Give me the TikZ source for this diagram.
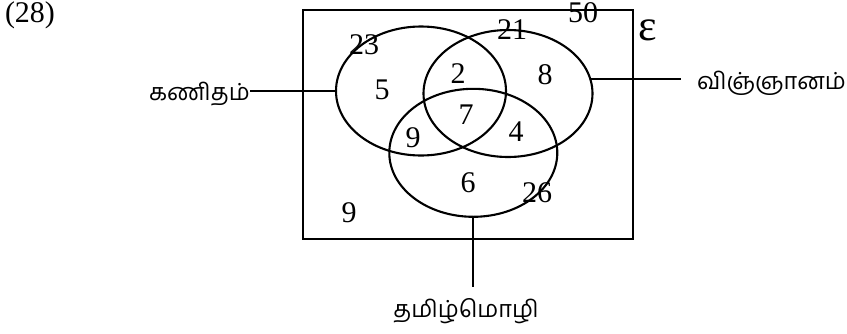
\documentclass[tikz,border=0pt]{standalone}
\usepackage{fontspec}
\setmainfont{Liberation Serif}
\newfontfamily\tamilfont[Script=Tamil]{Hind Madurai}
\usetikzlibrary{shapes.geometric,positioning}

\begin{document}
\begin{tikzpicture}[
  x=1pt, y=-1pt,
  every node/.style={font=\fontsize{30}{32}\selectfont},
  setring/.style={draw, ellipse, line width=2.1pt, inner sep=0pt, outer sep=0pt},
  num/.style={inner sep=0pt},
  tlabel/.style={font=\tamilfont\fontsize{23.5}{28}\selectfont, inner sep=0pt},
  conn/.style={line width=2.1pt}
]
  \useasboundingbox (0,0) rectangle (847,333);

  % universal set and the three sets
  \node[draw, line width=2.3pt, minimum width=330pt, minimum height=229pt,
        inner sep=0pt, outer sep=0pt] (univ) at (468,124.5) {};
  \node[setring, minimum width=170pt, minimum height=129pt] (maths) at (421,91) {};
  \node[setring, minimum width=169pt, minimum height=127pt] (science) at (508,93.5) {};
  \node[setring, minimum width=168pt, minimum height=128pt] (tamil) at (473.3,152.8) {};

  \node[num] (qno) at (30,15) {(28)};
  \node[num, font=\fontsize{44}{44}\selectfont] (eps) at (648,30) {ε};

  % region counts
  \node[num] (nA) at (364,45) {23};
  \node[num] (nB) at (512,30) {21};
  \node[num] (nU) at (583,13) {50};
  \node[num] (a) at (382,90) {5};
  \node[num] (ab) at (458,74) {2};
  \node[num] (b) at (545,75) {8};
  \node[num] (abc) at (466,115) {7};
  \node[num] (ac) at (413,138) {9};
  \node[num] (bc) at (516,132) {4};
  \node[num] (c) at (468,183) {6};
  \node[num] (nC) at (537,193) {26};
  \node[num] (out) at (349,213) {9};

  % set names
  \node[tlabel, anchor=east] (mathsname) at (250,94) {கணிதம்};
  \node[tlabel, anchor=west] (sciencename) at (697,83) {விஞ்ஞானம்};
  \node[tlabel] (tamilname) at (466,311) {தமிழ்மொழி};

  \draw[conn] (maths.west) -- (maths.west -| mathsname.east);
  \draw[conn] (science.10) -- ++(91,0);
  \draw[conn] (tamil.south) -- ++(0,70);
\end{tikzpicture}
\end{document}
